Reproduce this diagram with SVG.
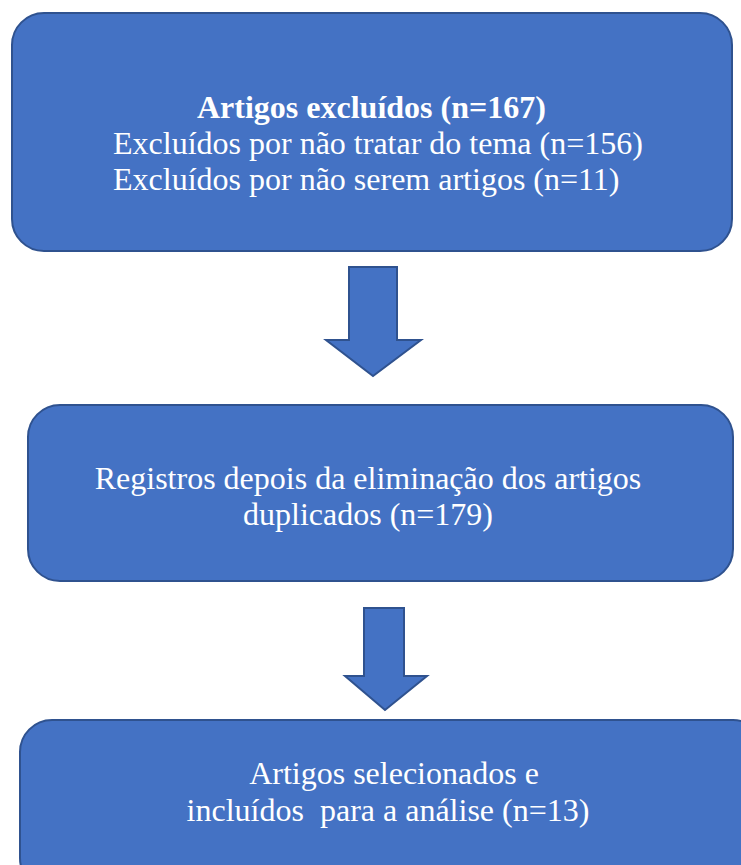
<svg xmlns="http://www.w3.org/2000/svg" width="741" height="865" viewBox="0 0 741 865">
<style>
.box{fill:#4472C4;stroke:#2F528F;stroke-width:2}
.arrow{fill:#4472C4;stroke:#2F528F;stroke-width:2;stroke-linejoin:miter}
.t{font-family:"Liberation Serif","Times New Roman",serif;font-size:32px;fill:#FFFFFF}
.b{font-weight:bold}
</style>
<rect width="741" height="865" fill="#FFFFFF"/>
<g id="node-excluidos">
<rect class="box" x="12" y="13" width="720" height="238" rx="32" ry="32"/>
<text class="t b" x="197" y="118">Artigos excluídos (n=167)</text>
<text class="t" x="113" y="154">Excluídos por não tratar do tema (n=156)</text>
<text class="t" x="113" y="190">Excluídos por não serem artigos (n=11)</text>
</g>
<g id="node-registros">
<rect class="box" x="28" y="405" width="705" height="176" rx="32" ry="32"/>
<text class="t" x="368" y="489" text-anchor="middle">Registros depois da eliminação dos artigos</text>
<text class="t" x="368" y="525" text-anchor="middle">duplicados (n=179)</text>
</g>
<g id="node-incluidos">
<rect class="box" x="20" y="720" width="745" height="170" rx="32" ry="32"/>
<text class="t" x="394" y="784" text-anchor="middle">Artigos selecionados e</text>
<text class="t" x="388" y="821" text-anchor="middle" xml:space="preserve">incluídos  para a análise (n=13)</text>
</g>
<g id="connectors">
<polygon class="arrow" points="349,267 397,267 397,340 421,340 373,376 326,340 349,340"/>
<polygon class="arrow" points="364,608 404,608 404,676 427,676 385,710 345,676 364,676"/>
</g>
</svg>
